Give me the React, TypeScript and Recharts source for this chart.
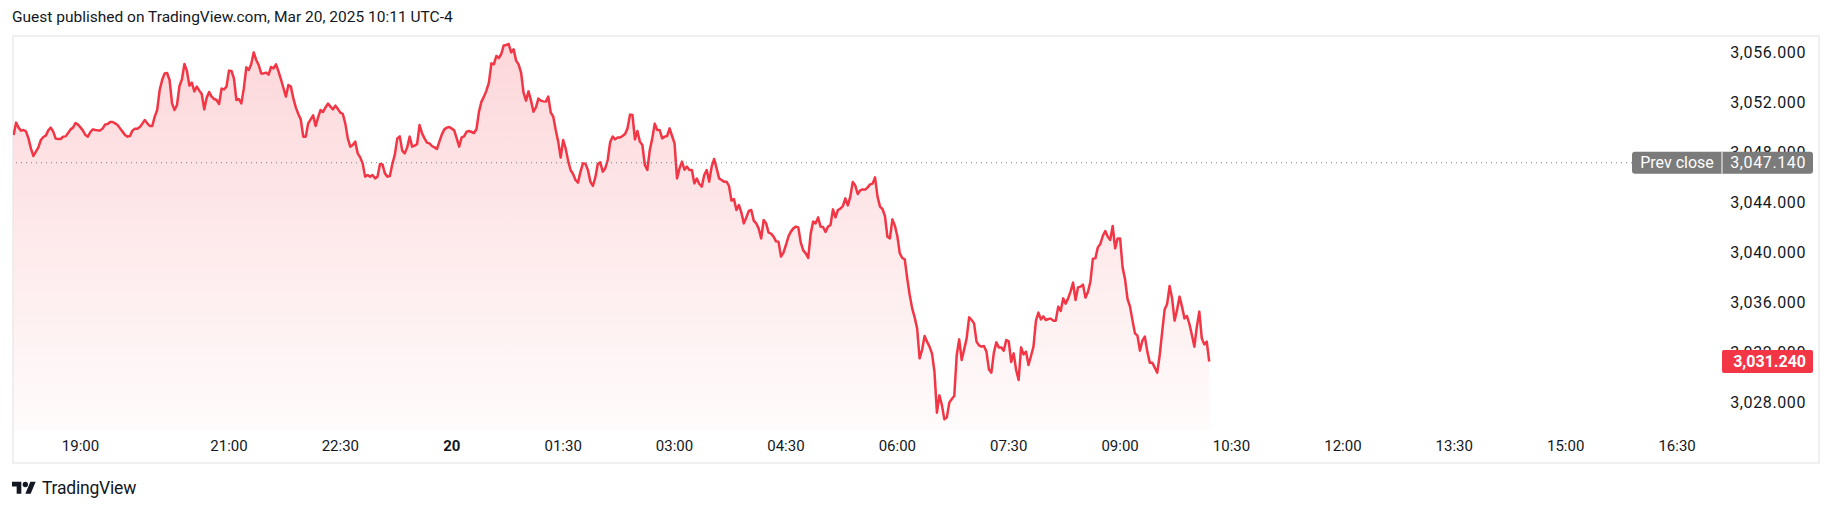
import React from 'react';
import { ComposedChart, Area, XAxis, YAxis, ReferenceLine } from 'recharts';

// 2-minute samples of the gold price line, starting 18:06 (minutes after 18:00)
const startMinute = 6;
const stepMinutes = 2;

const prices = [
  3049.36, 3050.35, 3049.95, 3049.71, 3049.76, 3049.65, 3049.09, 3048.27, 3047.68, 3048.03,
  3048.37, 3048.96, 3049.20, 3049.31, 3049.73, 3049.95, 3049.63, 3049.07, 3049.04, 3049.04,
  3049.23, 3049.25, 3049.52, 3049.81, 3049.95, 3050.32, 3050.19, 3049.97, 3049.71, 3049.36,
  3049.23, 3049.60, 3049.81, 3049.76, 3049.73, 3049.73, 3049.89, 3050.21, 3050.24, 3050.40,
  3050.40, 3050.29, 3050.16, 3049.89, 3049.63, 3049.36, 3049.23, 3049.28, 3049.71, 3049.87,
  3049.87, 3050.00, 3050.27, 3050.56, 3050.29, 3050.08, 3050.08, 3050.83, 3051.36, 3052.96,
  3053.76, 3054.29, 3054.32, 3053.76, 3051.89, 3051.36, 3051.76, 3053.28, 3053.81, 3055.04,
  3054.51, 3053.31, 3053.55, 3052.85, 3053.23, 3052.91, 3052.64, 3051.41, 3052.35, 3052.80,
  3052.43, 3052.24, 3052.16, 3051.84, 3053.07, 3053.01, 3053.23, 3054.51, 3054.48, 3053.89,
  3052.16, 3052.24, 3051.89, 3053.09, 3054.77, 3054.56,
  3055.04, 3055.97, 3055.36, 3054.96, 3054.29, 3054.29, 3054.35, 3054.19, 3054.80, 3054.69,
  3055.01, 3054.45, 3053.81, 3053.12, 3052.43, 3053.36, 3053.23, 3052.29, 3051.57, 3051.04,
  3050.61, 3049.23, 3049.23, 3050.29, 3050.61, 3050.93, 3050.08, 3050.77, 3051.36, 3051.20,
  3051.57, 3051.87, 3051.63, 3051.41, 3051.71, 3051.44, 3051.15, 3051.04, 3050.27, 3049.09,
  3048.43, 3048.56, 3048.83, 3047.89, 3047.57, 3047.09, 3046.03, 3046.16, 3046.03, 3046.16,
  3045.89, 3046.03, 3047.04, 3047.01, 3046.29, 3046.03, 3046.08, 3047.04, 3047.79, 3049.09,
  3049.25, 3048.11, 3047.89, 3048.37, 3049.23, 3048.43, 3048.51, 3048.64, 3050.16, 3049.49,
  3049.09, 3048.75, 3048.69, 3048.48, 3048.37, 3048.24, 3048.83, 3049.41, 3049.81, 3049.95,
  3050.00, 3049.87, 3049.73, 3049.09, 3048.43, 3049.17, 3049.25, 3049.63, 3049.68, 3049.60,
  3049.52, 3049.84, 3051.23, 3052.03, 3052.43, 3052.91,
  3053.55, 3055.09, 3055.01, 3055.68, 3055.52, 3055.84, 3056.53, 3056.56, 3056.64, 3055.97,
  3056.21, 3055.31, 3055.01, 3054.35, 3052.75, 3052.11, 3052.85, 3052.13, 3051.23, 3051.57,
  3052.27, 3052.11, 3052.05, 3052.03, 3052.43, 3051.15, 3050.83, 3049.76, 3048.83, 3047.55,
  3048.96, 3048.29, 3047.31, 3046.56, 3046.24, 3045.76, 3045.55, 3046.43, 3047.09, 3047.07,
  3046.56, 3045.63, 3045.28, 3045.97, 3047.04, 3047.17, 3046.43, 3046.69, 3047.36, 3048.80,
  3049.23, 3049.01, 3049.17, 3049.17, 3049.28, 3049.44, 3049.89, 3050.99, 3050.96, 3049.01,
  3049.68, 3048.83, 3048.56, 3046.96, 3046.56, 3048.16, 3049.09, 3050.27, 3049.76, 3049.76,
  3049.09, 3049.23, 3049.28, 3049.89, 3049.28, 3048.69, 3045.89, 3046.69, 3047.23, 3046.59,
  3046.83, 3046.56, 3046.56, 3045.49, 3045.87, 3045.44, 3045.23, 3046.16, 3046.56, 3045.63,
  3046.83, 3047.44, 3046.69, 3045.89, 3045.76, 3045.63, 3045.63,
  3045.28, 3044.11, 3044.24, 3043.36, 3043.76, 3043.15, 3042.29, 3042.77, 3043.28, 3043.36,
  3042.51, 3042.29, 3041.87, 3041.09, 3042.56, 3042.29, 3041.55, 3041.47, 3041.23, 3040.85,
  3040.83, 3039.63, 3039.95, 3040.56, 3041.23, 3041.63, 3041.89, 3042.03, 3041.97, 3040.75,
  3040.13, 3039.89, 3039.52, 3041.47, 3042.43, 3042.29, 3042.77, 3042.03, 3042.00, 3041.60,
  3042.03, 3042.16, 3043.41, 3042.77, 3043.36, 3043.47, 3043.68, 3044.29, 3043.73, 3044.43,
  3045.60, 3045.33, 3044.64, 3044.93, 3045.01, 3044.99, 3045.17, 3045.41, 3045.47, 3045.97,
  3044.43, 3043.63, 3043.44, 3042.88, 3041.23, 3041.09, 3042.61, 3042.11, 3041.28, 3039.89,
  3039.52, 3039.41, 3037.89, 3036.56, 3035.49, 3034.77, 3033.89, 3031.49, 3032.16, 3033.28,
  3032.83, 3032.43, 3031.89, 3030.43, 3027.15, 3028.53, 3027.76, 3026.61, 3026.77, 3027.95,
  3028.24, 3028.48, 3031.76, 3033.01, 3031.36, 3032.21, 3033.09,
  3034.77, 3034.56, 3034.29, 3032.83, 3032.53, 3032.43, 3032.48, 3032.03, 3030.61, 3030.35,
  3031.95, 3032.77, 3032.37, 3032.37, 3032.11, 3032.96, 3032.85, 3031.20, 3031.89, 3030.56,
  3029.76, 3032.37, 3031.81, 3032.03, 3030.96, 3031.68, 3032.43, 3034.51, 3035.15, 3034.61,
  3034.85, 3034.56, 3034.64, 3034.67, 3034.51, 3034.51, 3035.63, 3035.28, 3036.29, 3035.87,
  3036.29, 3036.85, 3037.55, 3036.16, 3037.17, 3037.23, 3037.39, 3036.35, 3036.80, 3037.63,
  3039.47, 3039.49, 3040.37, 3040.64, 3041.28, 3041.68, 3041.23, 3040.96, 3042.08, 3040.29,
  3041.09, 3041.09, 3038.77, 3037.81, 3036.24, 3035.63, 3034.53, 3033.49, 3033.31, 3032.11,
  3032.91, 3033.23, 3032.03, 3031.15, 3031.15, 3030.75, 3030.35, 3031.76, 3033.63, 3035.41,
  3035.84, 3037.28, 3036.29, 3034.51, 3035.36, 3036.43, 3035.63, 3034.69, 3034.88, 3034.24,
  3033.36, 3032.43, 3034.03, 3035.23, 3033.09, 3032.61, 3032.83, 3031.24,
];

const prevClose = 3047.14;
const lastPrice = 3031.24;

const yTicks = [3028, 3032, 3036, 3040, 3044, 3048, 3052, 3056];
const xTickMinutes = [60, 180, 270, 360, 450, 540, 630, 720, 810, 900, 990, 1080, 1170, 1260, 1350];
const xTickLabels = ['19:00', '21:00', '22:30', '20', '01:30', '03:00', '04:30', '06:00', '07:30', '09:00', '10:30', '12:00', '13:30', '15:00', '16:30'];

const data = prices.map((price, i) => ({ t: startMinute + i * stepMinutes, price }));

const FONT = 'Roboto, "Noto Sans", sans-serif';
const RED = '#f23645';

const fmt = (v: number) =>
  v.toLocaleString('en-US', { minimumFractionDigits: 3, maximumFractionDigits: 3 });

const YTick = (props: any) => {
  const { x, y, payload } = props;
  return (
    <text x={x + 84} y={y} textAnchor="end" dominantBaseline="central" fill="#131722" fontSize={16}
      letterSpacing={0.6} fontFamily={FONT}>
      {fmt(payload.value)}
    </text>
  );
};

const XTick = (props: any) => {
  const { x, y, payload } = props;
  const idx = xTickMinutes.indexOf(payload.value);
  const label = xTickLabels[idx];
  return (
    <text x={x} y={y + 16} textAnchor="middle" dominantBaseline="central" fill="#131722" fontSize={15}
      fontFamily={FONT} fontWeight={label === '20' ? 700 : 400}>
      {label}
    </text>
  );
};

const PrevCloseBadge = (props: any) => {
  const { x, y, width } = props.viewBox;
  const right = x + width;
  return (
    <g>
      <rect x={right - 90} y={y - 11} width={181} height={22} rx={3} fill="#7b7b7b" />
      <line x1={right} x2={right} y1={y - 11} y2={y + 11} stroke="#ffffff" strokeWidth={1} />
      <text x={right - 45} y={y} textAnchor="middle" dominantBaseline="central" fill="#fff" fontSize={16} fontFamily={FONT}>
        Prev close
      </text>
      <text x={right + 84} y={y} textAnchor="end" dominantBaseline="central" fill="#fff" fontSize={16}
        letterSpacing={0.6} fontFamily={FONT}>
        {fmt(prevClose)}
      </text>
    </g>
  );
};

const LastBadge = (props: any) => {
  const { x, y, width } = props.viewBox;
  const right = x + width;
  return (
    <g>
      <rect x={right} y={y - 11.5} width={91} height={23} rx={2} fill={RED} />
      <text x={right + 84} y={y} textAnchor="end" dominantBaseline="central" fill="#fff" fontSize={16}
        fontWeight={700} fontFamily={FONT}>
        {fmt(lastPrice)}
      </text>
    </g>
  );
};

const TvLogo = () => (
  <svg width={24} height={19} viewBox="0 0 36 28" style={{ position: 'absolute', left: 12, top: 479 }}>
    <path d="M14 22H7V11H0V4h14v18zM28 22h-8l7.5-18h8L28 22z" fill="#131722" />
    <circle cx="20" cy="8" r="4" fill="#131722" />
  </svg>
);

const App: React.FC = () => {
  return (
    <div style={{ position: 'absolute', left: 0, top: 0, width: 1834, height: 512, background: '#fff', fontFamily: FONT, color: '#131722' }}>
      <div style={{ position: 'absolute', left: 12, top: 7, fontSize: 15.5, lineHeight: '20px' }}>
        Guest published on TradingView.com, Mar 20, 2025 10:11 UTC-4
      </div>
      <div style={{ position: 'absolute', left: 12, top: 35, width: 1808, height: 429, border: '2px solid #f0f0f0', boxSizing: 'border-box' }} />
      <div style={{ position: 'absolute', left: 0, top: 0 }}>
        <ComposedChart width={1834} height={512} data={data} margin={{ top: 36, right: 12, bottom: 52, left: 13 }}>
          <defs>
            <linearGradient id="goldFill" x1="0" y1="0" x2="0" y2="1">
              <stop offset="0%" stopColor={RED} stopOpacity={0.33} />
              <stop offset="100%" stopColor={RED} stopOpacity={0.03} />
            </linearGradient>
          </defs>
          <XAxis dataKey="t" type="number" domain={[5.5, 1386.3]} allowDataOverflow ticks={xTickMinutes}
            axisLine={false} tickLine={false} tickSize={0} tickMargin={0} height={30} tick={<XTick />} interval={0} />
          <YAxis orientation="right" type="number" domain={[3025.76, 3057.28]} allowDataOverflow ticks={yTicks}
            axisLine={false} tickLine={false} tickSize={0} tickMargin={0} width={100} tick={<YTick />} interval={0} />
          <Area type="linear" dataKey="price" stroke={RED} strokeWidth={2.5} strokeLinejoin="round" fill="url(#goldFill)"
            isAnimationActive={false} dot={false} activeDot={false} />
          <ReferenceLine y={prevClose} stroke="#787b86" strokeDasharray="1 4" strokeWidth={1}
            zIndex={2000} label={<PrevCloseBadge />} />
          <ReferenceLine y={lastPrice} stroke="none" strokeOpacity={0} zIndex={2000} label={<LastBadge />} />
        </ComposedChart>
      </div>
      <TvLogo />
      <div style={{ position: 'absolute', left: 42, top: 478, fontSize: 17.5, lineHeight: '20px', letterSpacing: -0.2 }}>TradingView</div>
    </div>
  );
};

export default App;
